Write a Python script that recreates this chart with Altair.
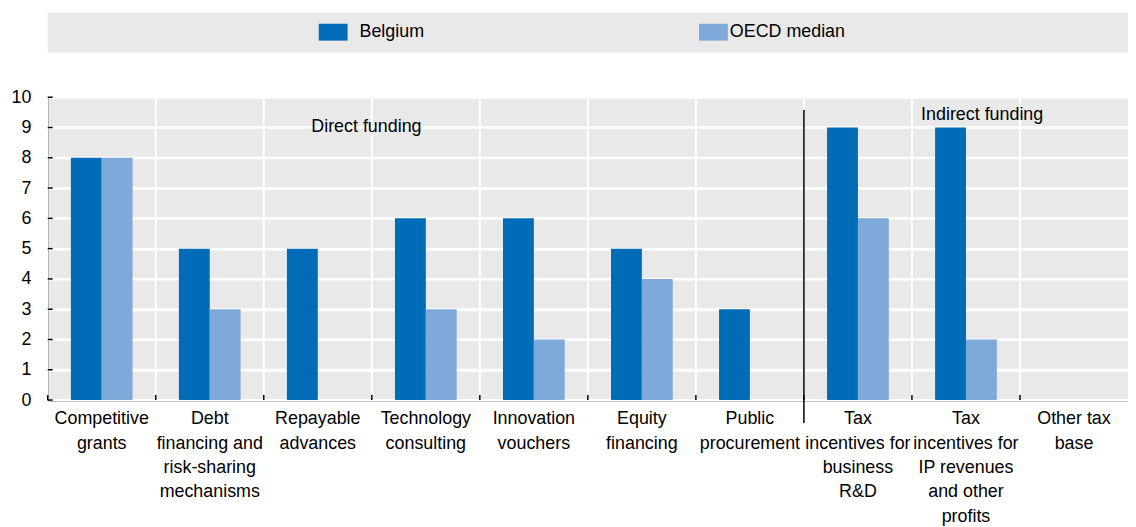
import json
import altair as alt
import pandas as pd

categories = [
    "Competitive grants",
    "Debt financing and risk-sharing mechanisms",
    "Repayable advances",
    "Technology consulting",
    "Innovation vouchers",
    "Equity financing",
    "Public procurement",
    "Tax incentives for business R&D",
    "Tax incentives for IP revenues and other profits",
    "Other tax base",
]
label_lines = [
    ["Competitive", "grants"],
    ["Debt", "financing and", "risk-sharing", "mechanisms"],
    ["Repayable", "advances"],
    ["Technology", "consulting"],
    ["Innovation", "vouchers"],
    ["Equity", "financing"],
    ["Public", "procurement"],
    ["Tax", "incentives for", "business", "R&D"],
    ["Tax", "incentives for", "IP revenues", "and other", "profits"],
    ["Other tax", "base"],
]
belgium = [8, 5, 5, 6, 6, 5, 3, 9, 9, None]
oecd_median = [8, 3, None, 3, 2, 4, None, 6, 2, None]
series = ["Belgium", "OECD median"]
colors = ["#006BB6", "#7FA9D9"]
y_ticks = list(range(0, 11))

FONT = "Liberation Sans"
FS = 18
W, H = 1088, 305

rows = []
for c, b, o in zip(categories, belgium, oecd_median):
    rows.append({"category": c, "series": series[0], "value": b})
    rows.append({"category": c, "series": series[1], "value": o})
df = pd.DataFrame(rows)

label_expr = "".join(
    f"datum.value == {json.dumps(c)} ? {json.dumps(l)} : "
    for c, l in zip(categories, label_lines)
) + "datum.label"

x_scale = alt.Scale(domain=categories, paddingInner=0, paddingOuter=0)
y_scale = alt.Scale(domain=[0, 10])

x_axis = alt.Axis(
    title=None, grid=False, ticks=False, domainColor="black", domainWidth=1.5,
    labelAngle=0, labelExpr=label_expr, labelFontSize=FS, labelLineHeight=24.5,
    labelPadding=10, labelColor="black", labelOverlap=False, labelLimit=0, labelFont=FONT,
)
y_axis = alt.Axis(
    title=None, values=y_ticks, tickCount=11, grid=True, gridColor="white",
    gridWidth=2, gridOpacity=1, ticks=False,
    domainColor="black", domainWidth=1.5, labelFontSize=FS, labelPadding=17,
    labelColor="black", labelOverlap=False, minExtent=40, maxExtent=40, labelFont=FONT,
)

ytick_df = pd.DataFrame({"value": y_ticks})
cat_df = pd.DataFrame({"category": categories})

hgrid = alt.Chart(ytick_df).mark_tick(
    color="white", thickness=2, size=W, orient="horizontal", opacity=1
).encode(
    y=alt.Y("value:Q", scale=y_scale, axis=y_axis),
    x=alt.value(W / 2),
)
vgrid = alt.Chart(cat_df).mark_rule(color="white", strokeWidth=2).encode(
    x=alt.X("category:N", scale=x_scale, bandPosition=0, axis=x_axis),
    y=alt.value(0),
    y2=alt.value(H),
)

bars = alt.Chart(df).mark_bar().encode(
    x=alt.X("category:N", scale=x_scale, axis=x_axis),
    xOffset=alt.XOffset("series:N", scale=alt.Scale(domain=series, paddingInner=0, paddingOuter=0.75)),
    y=alt.Y("value:Q", scale=y_scale, axis=y_axis),
    color=alt.Color("series:N", scale=alt.Scale(domain=series, range=colors), legend=None),
)

yticks = alt.Chart(ytick_df).mark_tick(color="black", thickness=1.5, size=5, orient="horizontal", opacity=1).encode(
    y=alt.Y("value:Q", scale=y_scale, axis=y_axis),
    x=alt.value(2.5),
)

xticks = alt.Chart(cat_df).mark_rule(color="black", strokeWidth=1.5).encode(
    x=alt.X("category:N", scale=x_scale, bandPosition=0, axis=x_axis),
    y=alt.value(H - 5),
    y2=alt.value(H),
)

sep_df = pd.DataFrame({"category": ["Tax incentives for business R&D"]})
separator = alt.Chart(sep_df).mark_rule(color="black", strokeWidth=1.5).encode(
    x=alt.X("category:N", scale=x_scale, bandPosition=0, axis=x_axis),
    y=alt.value(13),
    y2=alt.value(H + 23),
)

direct_df = pd.DataFrame({"category": ["Repayable advances"], "value": [9], "text": ["Direct funding"]})
direct_txt = alt.Chart(direct_df).mark_text(
    fontSize=FS, font=FONT, align="center", baseline="middle", color="black"
).encode(
    x=alt.X("category:N", scale=x_scale, bandPosition=0.95, axis=x_axis),
    y=alt.Y("value:Q", scale=y_scale, axis=y_axis),
    text="text:N",
)

indirect_df = pd.DataFrame({"category": ["Tax incentives for IP revenues and other profits"], "value": [9.4], "text": ["Indirect funding"]})
indirect_txt = alt.Chart(indirect_df).mark_text(
    fontSize=FS, font=FONT, align="center", baseline="middle", color="black"
).encode(
    x=alt.X("category:N", scale=x_scale, bandPosition=0.65, axis=x_axis),
    y=alt.Y("value:Q", scale=y_scale, axis=y_axis),
    text="text:N",
)

main = alt.layer(hgrid, vgrid, bars, yticks, xticks, separator, direct_txt, indirect_txt).properties(width=W, height=H)

leg_df = pd.DataFrame({"series": series})
leg_base = alt.Chart(leg_df).encode(
    x=alt.X("series:N", scale=alt.Scale(type="point", domain=series, range=[287.5, 670.5], padding=0), axis=None),
    y=alt.value(19.5),
)
swatch = leg_base.mark_point(
    shape="M-1,-0.5862L1,-0.5862L1,0.5862L-1,0.5862Z", filled=True, size=841, opacity=1
).encode(color=alt.Color("series:N", scale=alt.Scale(domain=series, range=colors), legend=None))
leg_t1 = leg_base.mark_text(fontSize=FS, font=FONT, align="left", baseline="middle", dx=26.5, color="black").encode(
    text="series:N"
).transform_filter(alt.datum.series == series[0])
leg_t2 = leg_base.mark_text(fontSize=FS, font=FONT, align="left", baseline="middle", dx=16.5, color="black").encode(
    text="series:N"
).transform_filter(alt.datum.series == series[1])
legend = alt.layer(swatch, leg_t1, leg_t2).properties(width=W, height=40)

chart = alt.vconcat(legend, main, spacing=45, bounds="flush").properties(
    padding={"left": 0, "top": 3, "right": 0, "bottom": 0}
).configure(font=FONT).configure_view(fill="#E9E9E9", strokeWidth=0)

chart.save("out.html", embed_options={"renderer": "svg", "actions": False})
